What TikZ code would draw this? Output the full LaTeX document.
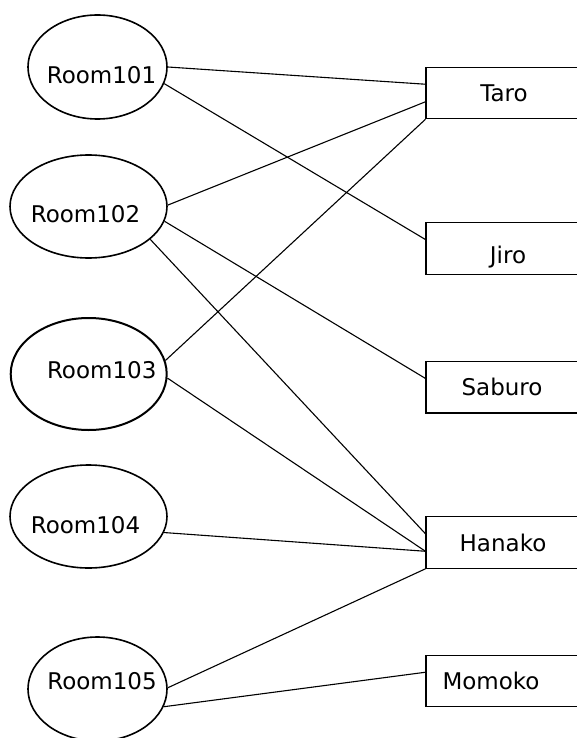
\documentclass[tikz,border=0pt]{standalone}
\usepackage{fontspec}
\setmainfont{DejaVu Sans}
\usetikzlibrary{shapes.geometric,calc}

\tikzset{
 room/.style={draw,ellipse,line width=1.6pt,inner sep=0pt,minimum width=157pt,minimum height=103pt},
 guest/.style={draw,rectangle,line width=1.1pt,inner sep=0pt,minimum width=160pt,minimum height=51.5pt},
 txt/.style n args={3}{label={[xshift=#1pt,yshift=#2pt]center:#3}},
 link/.style={line width=1.1pt},
}

\begin{document}
\begin{tikzpicture}[x=1pt,y=-1pt,font=\fontsize{23}{27}\selectfont]
 \path[use as bounding box] (0,0) rectangle (577,738);
 \clip (0,0) rectangle (577,738);
 % rooms
 \node[room,minimum width=139pt,minimum height=104pt,txt={4}{-8}{Room101}] (r101) at (97.5,67) {};
 \node[room,txt={-3}{-7.5}{Room102}] (r102) at (88.5,206.5) {};
 \node[room,line width=2pt,minimum width=156pt,minimum height=112pt,txt={13}{4}{Room103}] (r103) at (88.7,374) {};
 \node[room,txt={-3}{-8.5}{Room104}] (r104) at (88.5,516.5) {};
 \node[room,minimum width=139pt,minimum height=104pt,txt={4.5}{8}{Room105}] (r105) at (97.5,689) {};
 % people
 \node[guest,txt={-2}{0}{Taro}] (taro) at (506,93) {};
 \node[guest,txt={2}{-9}{Jiro}] (jiro) at (506,248.3) {};
 \node[guest,txt={-4}{0}{Saburo}] (saburo) at (506,387.2) {};
 \node[guest,txt={-3}{0}{Hanako}] (hanako) at (506,542.5) {};
 \node[guest,txt={-15}{0}{Momoko}] (momoko) at (506,681) {};
 % who is in which room
 \draw[link] (r101.east) -- ($(taro.north west)!1/3!(taro.south west)$);
 \draw[link] (r101.-14) -- ($(jiro.north west)!1/3!(jiro.south west)$);
 \draw[link] (r102.1) -- ($(taro.north west)!2/3!(taro.south west)$);
 \draw[link] (r102.-11) -- ($(saburo.north west)!1/3!(saburo.south west)$);
 \draw[link] (r102.-28) -- ($(hanako.north west)!1/3!(hanako.south west)$);
 \draw[link] (r103.10) -- (taro.south west);
 \draw[link] (r103.-3) -- ($(hanako.north west)!2/3!(hanako.south west)$);
 \draw[link] (r104.-12) -- ($(hanako.north west)!2/3!(hanako.south west)$);
 \draw[link] (r105.1) -- (hanako.south west);
 \draw[link] (r105.-15) -- ($(momoko.north west)!1/3!(momoko.south west)$);
\end{tikzpicture}
\end{document}
